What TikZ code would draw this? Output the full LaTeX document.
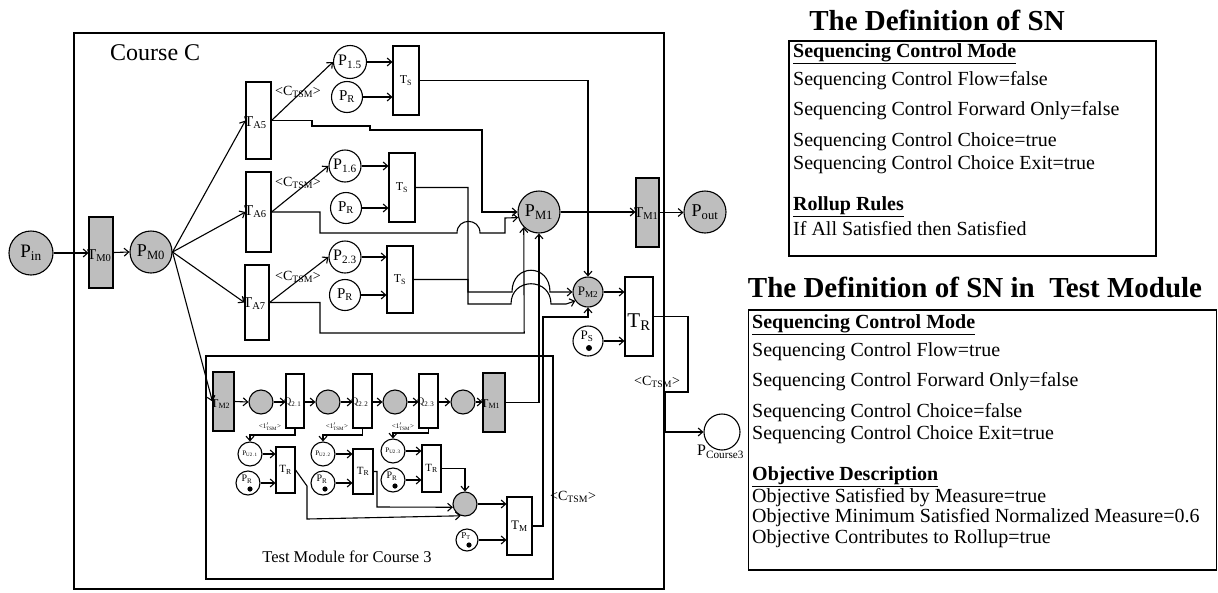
\documentclass[tikz,border=0pt]{standalone}
\usepackage{fontspec}
\setmainfont{Liberation Serif}
\usetikzlibrary{arrows.meta}
\definecolor{pgray}{RGB}{190,190,190}
\newcommand\fs[1]{\fontsize{#1}{#1}\selectfont}
\newcommand\PL[2]{$\mathrm{#1}_{\mathrm{#2}}$}
\tikzset{
 lw/.style={line width=1.1pt},
 ln/.style={lw, draw=black},
 arr/.style={ln, -{Straight Barb[length=4.5pt,width=8pt]}},
 pl/.style={circle, draw, lw, inner sep=0pt, minimum size=#1, fill=white},
 gpl/.style={pl=#1, fill=pgray},
 trn/.style 2 args={rectangle, draw, lw, fill=white, inner sep=0pt, minimum width=#1, minimum height=#2},
 gtrn/.style 2 args={trn={#1}{#2}, fill=pgray},
 frm/.style 2 args={rectangle, draw, lw, inner sep=0pt, minimum width=#1, minimum height=#2},
 lab/.style={inner sep=0pt},
 txt/.style={inner sep=0pt, anchor=west, font=\fs{20}},
 tok/.style={fill=black},
}
\begin{document}
\begin{tikzpicture}[x=1pt,y=-1pt]
\useasboundingbox (0,0) rectangle (1218,592);
% frames
\node[frm={590pt}{556pt}] (course) at (369,311) {};
\node[frm={347pt}{223pt}] (testbox) at (379.5,467.5) {};
\node[lab, anchor=west, font=\fs{24}] (courseC) at (110,53) {Course C};
\node[lab, font=\fs{16.5}] (testlab) at (347,557) {Test Module for Course 3};

% main places and transitions
\node[gpl=44pt, font=\fs{19}] (Pin) at (31,253) {\PL{P}{in}};
\node[gtrn={24pt}{71pt}] (TM0) at (101,252.5) {};
\node[gpl=42pt, font=\fs{18}] (PM0) at (151,252) {\PL{P}{M0}};
\node[trn={25pt}{77pt}] (TA5) at (258.5,120.5) {};
\node[trn={25pt}{80pt}] (TA6) at (258.5,212) {};
\node[trn={24pt}{75pt}] (TA7) at (257,302.5) {};
\node[trn={26pt}{69pt}] (TS1) at (406,80.5) {};
\node[trn={26pt}{69pt}] (TS2) at (402,187.5) {};
\node[trn={26pt}{67pt}] (TS3) at (400,279.5) {};
\node[pl=33pt, font=\fs{16}] (P15) at (350,62) {\PL{P}{1.5}};
\node[pl=31pt, font=\fs{15}] (PR1) at (347,97) {\PL{P}{R}};
\node[pl=32pt, font=\fs{16}] (P16) at (345,166) {\PL{P}{1.6}};
\node[pl=31pt, font=\fs{15}] (PR2) at (346,208) {\PL{P}{R}};
\node[pl=32pt, font=\fs{16}] (P23) at (345,257) {\PL{P}{2.3}};
\node[pl=31pt, font=\fs{15}] (PR3) at (345,295) {\PL{P}{R}};
\node[gpl=42pt, font=\fs{18}] (PM1) at (539,212) {\PL{P}{M1}};
\node[gtrn={23pt}{69pt}] (TM1) at (647.5,212.5) {};
\node[gpl=42pt, font=\fs{18}] (Pout) at (705,212) {\PL{P}{out}};
\node[gpl=30pt, font=\fs{13}] (PM2) at (588,292) {\PL{P}{M2}};
\node[trn={28pt}{79pt}] (TR) at (639,316.5) {};
\node[pl=30pt] (PS) at (588,341) {};
\node[pl=36pt] (PC3) at (722,432) {};

% transition labels
\node[lab, anchor=west, font=\fs{15}] (TM0l) at (87,256) {\PL{T}{M0}};
\node[lab, anchor=west, font=\fs{15}] (TA5l) at (244,123) {\PL{T}{A5}};
\node[lab, anchor=west, font=\fs{15}] (TA6l) at (244,212) {\PL{T}{A6}};
\node[lab, anchor=west, font=\fs{15}] (TA7l) at (243,304) {\PL{T}{A7}};
\node[lab, font=\fs{12}] (TS1l) at (TS1) {\PL{T}{S}};
\node[lab, font=\fs{12}] (TS2l) at (TS2) {\PL{T}{S}};
\node[lab, font=\fs{12}] (TS3l) at (TS3) {\PL{T}{S}};
\node[lab, anchor=west, font=\fs{15}] (TM1l) at (634,214) {\PL{T}{M1}};
\node[lab, font=\fs{21}] (TRl) at (639,322) {\PL{T}{R}};
\node[lab, font=\fs{13}] (PSl) at (587,336) {\PL{P}{S}};
\fill[tok] ([xshift=1pt,yshift=-7pt]PS.center) circle[radius=3pt];
\node[lab, anchor=west, font=\fs{16}] (PC3l) at (697,452) {\PL{P}{Course3}};
\node[lab, font=\fs{14}] (c1l) at (298,92) {\textless C$_{\mathrm{TSM}}$\textgreater};
\node[lab, font=\fs{14}] (c2l) at (298,183) {\textless C$_{\mathrm{TSM}}$\textgreater};
\node[lab, font=\fs{14}] (c3l) at (298,277) {\textless C$_{\mathrm{TSM}}$\textgreater};
\node[lab, font=\fs{14}] (c4l) at (657,382) {\textless C$_{\mathrm{TSM}}$\textgreater};
\node[lab, font=\fs{14}] (c5l) at (573,497) {\textless C$_{\mathrm{TSM}}$\textgreater};

% test module
\node[gtrn={21pt}{59pt}] (TM2) at (223.5,401.5) {};
\node[gpl=24pt] (k1) at (261,402) {};
\node[trn={18pt}{54pt}] (Q1) at (295,401) {};
\node[gpl=24pt] (k2) at (328,402) {};
\node[trn={19pt}{54pt}] (Q2) at (362.5,401) {};
\node[gpl=24pt] (k3) at (395,402) {};
\node[trn={19pt}{54pt}] (Q3) at (428.5,401) {};
\node[gpl=24pt] (k4) at (463,402) {};
\node[gtrn={22pt}{59pt}] (TM1t) at (494,402.5) {};
\node[lab, anchor=west, font=\fs{12}] (TM2l) at (211,404) {\PL{T}{M2}};
\node[lab, anchor=west, font=\fs{10}] (Q1l) at (284,402) {\PL{Q}{2.1}};
\node[lab, anchor=west, font=\fs{10}] (Q2l) at (351,402) {\PL{Q}{2.2}};
\node[lab, anchor=west, font=\fs{10}] (Q3l) at (417,402) {\PL{Q}{2.3}};
\node[lab, anchor=west, font=\fs{12}] (TM1tl) at (481,404) {\PL{T}{M1}};
\node[lab, font=\fs{7}] (s1) at (270,427) {\textless 1$'_{\mathrm{TSM}}$\textgreater};
\node[lab, font=\fs{7}] (s2) at (337,427) {\textless 1$'_{\mathrm{TSM}}$\textgreater};
\node[lab, font=\fs{7}] (s3) at (403,427) {\textless 1$'_{\mathrm{TSM}}$\textgreater};
\node[pl=24pt, font=\fs{7}] (U1) at (250,454) {\PL{P}{U2.1}};
\node[pl=24pt, font=\fs{7}] (U2) at (323,454) {\PL{P}{U2.2}};
\node[pl=24pt, font=\fs{7}] (U3) at (393,451) {\PL{P}{U2.3}};
\node[pl=24pt] (R1) at (248,483) {};
\node[pl=24pt] (R2) at (323,483) {};
\node[pl=24pt] (R3) at (393,480) {};
\node[lab, font=\fs{10}] (R1l) at (247,479) {\PL{P}{R}};
\node[lab, font=\fs{10}] (R2l) at (322,479) {\PL{P}{R}};
\node[lab, font=\fs{10}] (R3l) at (392,476) {\PL{P}{R}};
\fill[tok] ([xshift=2pt,yshift=-6pt]R1.center) circle[radius=2.6pt];
\fill[tok] ([xshift=2pt,yshift=-6pt]R2.center) circle[radius=2.6pt];
\fill[tok] ([xshift=2pt,yshift=-6pt]R3.center) circle[radius=2.6pt];
\node[trn={19pt}{46pt}] (TR1) at (285.5,470) {};
\node[trn={20pt}{45pt}] (TR2) at (363,471.5) {};
\node[trn={19pt}{47pt}] (TR3) at (431.5,468.5) {};
\node[lab, font=\fs{11}] (TR1l) at (TR1) {\PL{T}{R}};
\node[lab, font=\fs{11}] (TR2l) at (TR2) {\PL{T}{R}};
\node[lab, font=\fs{11}] (TR3l) at (TR3) {\PL{T}{R}};
\node[gpl=24pt] (G) at (465,504) {};
\node[pl=22pt] (PT) at (467,540) {};
\node[lab, font=\fs{9}] (PTl) at (466,536) {\PL{P}{T}};
\fill[tok] ([xshift=2pt,yshift=-5pt]PT.center) circle[radius=2.6pt];
\node[trn={25pt}{58pt}] (TMt) at (519.5,526) {};
\node[lab, font=\fs{13}] (TMtl) at (TMt) {\PL{T}{M}};

% connectors main
\draw[arr] (Pin.east) -- (Pin.east -| TM0.west);
\draw[arr] (TM0.east) -- (PM0.west);
\draw[arr] (PM0.east) -- (TA5.west);
\draw[arr] (PM0.east) -- (TA6.west);
\draw[arr] (PM0.east) -- (TA7.west);
\draw[arr] (PM0.east) -- (TM2.west);
\draw[arr] (TA5.east) -- (P15.west);
\draw[arr] (TA6.east) -- (P16.west);
\draw[arr] (TA7.east) -- (P23.west);
\draw[arr] (P15.east) -- (P15.east -| TS1.west);
\draw[arr] (PR1.east) -- (PR1.east -| TS1.west);
\draw[arr] (P16.east) -- (P16.east -| TS2.west);
\draw[arr] (PR2.east) -- (PR2.east -| TS2.west);
\draw[arr] (P23.east) -- (P23.east -| TS3.west);
\draw[arr] (PR3.east) -- (PR3.east -| TS3.west);
\draw[arr] (TS1.east) -| (PM2.north);
\draw[arr] (TA5.east) -- (312,120.5) -- (312,126) -- (370,126) -- (370,130) -- (482,130) -- (482,212) -- (PM1.west);
\draw[arr] (TA6.east) -- (320,212) -- (320,233) -- (457,233) .. controls (457,217.5) and (480,217.5) .. (480,233) -- (505,233) -- (505,218) -- (PM1.195);
\draw[arr] (TA7.east) -- (320,302.5) -- (320,333) -- (524.2,333) -- (PM1.south west);
\draw[arr] (TS2.east) -- (468,187.5) -- (468,304) -- (511,304) .. controls (511,277) and (551,277) .. (551,304) -- (566,304) -- (PM2.215);
\draw[arr] (TS3.east) -- (468,279.5) -- (468,292) -- (512,292) .. controls (512,263) and (550,263) .. (550,292) -- (PM2.west);
\draw[arr] (PM1.east) -- (PM1.east -| TM1.west);
\draw[arr] (TM1.east) -- (TM1.east -| Pout.west);
\draw[arr] (PM2.east) -- (PM2.east -| TR.west);
\draw[arr] (PS.east) -- (PS.east -| TR.west);
\draw[arr] (TR.east) -- (688,316.5) -- (688,392) -- (665,392) -- (665,432) -- (PC3.west);
\draw[arr] (TM1t.east) -- (539,402.5) -- (PM1.south);
\draw[arr] (TMt.east) -- (543,526) -- (543,317) -- (588,317) -- (PM2.south);

% connectors test module
\draw[arr] (TM2.east) -- (k1.west);
\draw[arr] (k1.east) -- (k1.east -| Q1.west);
\draw[arr] (Q1.east |- k2.west) -- (k2.west);
\draw[arr] (k2.east) -- (k2.east -| Q2.west);
\draw[arr] (Q2.east |- k3.west) -- (k3.west);
\draw[arr] (k3.east) -- (k3.east -| Q3.west);
\draw[arr] (Q3.east |- k4.west) -- (k4.west);
\draw[arr] (k4.east) -- (k4.east -| TM1t.west);
\draw[arr] (Q1.south) -- (295,435) -| (U1.north);
\draw[arr] (Q2.south) -- (362.5,435) -| (U2.north);
\draw[arr] (Q3.south) -- (428.5,433) -| (U3.north);
\draw[arr] (U1.east) -- (U1.east -| TR1.west);
\draw[arr] (R1.east) -- (R1.east -| TR1.west);
\draw[arr] (U2.east) -- (U2.east -| TR2.west);
\draw[arr] (R2.east) -- (R2.east -| TR2.west);
\draw[arr] (U3.east) -- (U3.east -| TR3.west);
\draw[arr] (R3.east) -- (R3.east -| TR3.west);
\draw[arr] (TR1.east) -- (307,486) -- (307,519) -- (G.250);
\draw[arr] (TR2.east) -- (377,471.5) -- (377,507) -- (G.195);
\draw[arr] (TR3.east) -| (G.north);
\draw[arr] (G.east) -- (G.east -| TMt.west);
\draw[arr] (PT.east) -- (PT.east -| TMt.west);

% right side definitions
\node[lab, font=\fs{29}\bfseries] (title1) at (937,20) {The Definition of SN};
\node[frm={367pt}{215pt}] (box1) at (972.5,148.5) {};
\node[txt] (b1a) at (793,54) {\underline{\textbf{Sequencing Control Mode}}};
\node[txt] (b1b) at (793,81) {Sequencing Control Flow=false};
\node[txt] (b1c) at (793,111) {Sequencing Control Forward Only=false};
\node[txt] (b1d) at (793,142) {Sequencing Control Choice=true};
\node[txt] (b1e) at (793,165) {Sequencing Control Choice Exit=true};
\node[txt] (b1f) at (793,207) {\underline{\textbf{Rollup Rules}}};
\node[txt] (b1g) at (793,229) {If All Satisfied then Satisfied};

\node[lab, font=\fs{29}\bfseries] (title2) at (975,287) {The Definition of SN in\ \ Test Module};
\node[frm={468pt}{260pt}] (box2) at (982.5,440) {};
\node[txt] (b2a) at (752,325) {\underline{\textbf{Sequencing Control Mode}}};
\node[txt] (b2b) at (752,352) {Sequencing Control Flow=true};
\node[txt] (b2c) at (752,382) {Sequencing Control Forward Only=false};
\node[txt] (b2d) at (752,413) {Sequencing Control Choice=false};
\node[txt] (b2e) at (752,435) {Sequencing Control Choice Exit=true};
\node[txt] (b2f) at (752,477) {\underline{\textbf{Objective Description}}};
\node[txt] (b2g) at (752,498) {Objective Satisfied by Measure=true};
\node[txt] (b2h) at (752,518) {Objective Minimum Satisfied Normalized Measure=0.6};
\node[txt] (b2i) at (752,539) {Objective Contributes to Rollup=true};
\end{tikzpicture}
\end{document}
